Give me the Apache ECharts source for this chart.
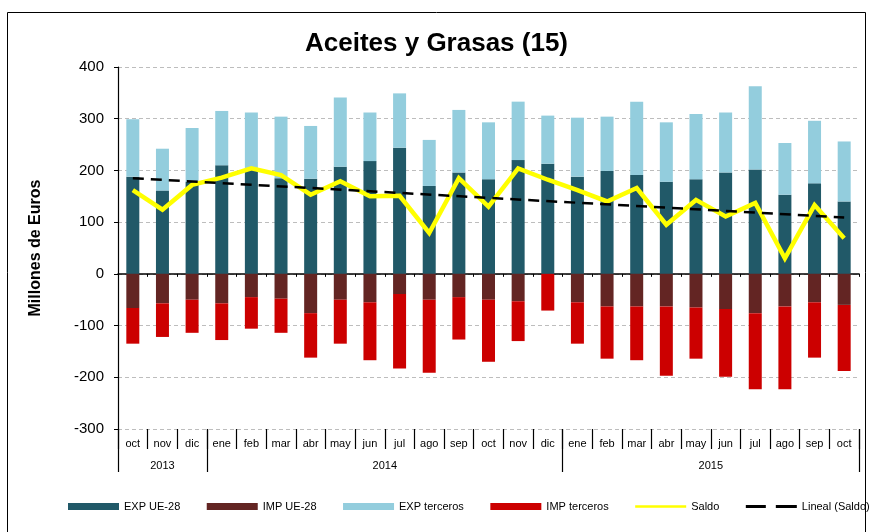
<!DOCTYPE html>
<html>
<head>
<meta charset="utf-8">
<script src="https://cdn.jsdelivr.net/npm/echarts@6/dist/echarts.min.js"></script>
<style>
  html, body { margin: 0; padding: 0; background: #fff; }
  #chart { width: 873px; height: 532px; }
</style>
</head>
<body>
<div id="chart"></div>
<script>
// Monthly categories, Oct 2013 – Oct 2015
const months = ['oct','nov','dic','ene','feb','mar','abr','may','jun','jul','ago','sep','oct','nov','dic',
                'ene','feb','mar','abr','may','jun','jul','ago','sep','oct'];
const years = ['2013', '2014', '2015'];
const monthsPerYear = [3, 12, 10];

// Millones de euros
const expUE = [188,161,178,210,201,185,184,207,218,244,170,196,183,220,213,188,199,191,178,183,196,202,153,175,140];
const expTerceros = [111,81,104,105,111,119,102,134,94,105,89,121,110,113,93,114,105,142,115,126,116,161,100,121,116];
const impUE = [-66,-57,-50,-57,-45,-48,-76,-50,-55,-39,-50,-45,-50,-53,0,-55,-63,-63,-63,-65,-68,-76,-63,-55,-60];
const impTerceros = [-69,-65,-64,-71,-61,-66,-86,-85,-112,-144,-141,-82,-120,-77,-71,-80,-101,-104,-134,-99,-131,-147,-160,-107,-128];
const saldo = [162,124,172,186,204,191,153,179,150,151,79,185,130,204,182,162,140,166,95,143,111,137,30,133,69];
// Linear trend of Saldo: value at first and last month
const trendEnds = [185, 109];

const yTicks = { min: -300, max: 400, step: 100 };

// Trend series: only the two end points, joined across the gap
const trend = months.map((m, i) => i === 0 ? trendEnds[0] : (i === months.length - 1 ? trendEnds[1] : null));

// Year boundaries and year label positions on a 0..N scale
const yearBounds = [0];
monthsPerYear.forEach(n => yearBounds.push(yearBounds[yearBounds.length - 1] + n));
const yearCenters = years.map((y, i) => (yearBounds[i] + yearBounds[i + 1]) / 2);

// Legend icons for the two line series (solid bar / two dashes), 51x7 box
const solidLineIcon = 'path://M0,0L0.01,0M0,2.2L51,2.2L51,4.8L0,4.8ZM51,7L50.99,7';
const dashedLineIcon = 'path://M0,0L0.01,0M0,2L20,2L20,5L0,5ZM30,2L51,2L51,5L30,5ZM51,7L50.99,7';

const chart = echarts.init(document.getElementById('chart'));
const font = 'Liberation Sans, Arial, sans-serif';

chart.setOption({
  animation: false,
  textStyle: { fontFamily: font },
  title: {
    text: 'Aceites y Grasas (15)',
    left: 'center',
    top: 26,
    textStyle: { fontSize: 26, fontWeight: 'bold', color: '#000', fontFamily: font }
  },
  graphic: [{
    type: 'rect',
    shape: { x: 7.5, y: 12.5, width: 858, height: 540 },
    style: { fill: 'none', stroke: '#000', lineWidth: 1 },
    silent: true
  }],
  legend: {
    left: 63,
    top: 496,
    width: 830,
    itemWidth: 51,
    itemHeight: 7,
    itemGap: 26.5,
    textStyle: { fontSize: 11, color: '#000', fontFamily: font },
    data: [
      { name: 'EXP UE-28', icon: 'rect' },
      { name: 'IMP UE-28', icon: 'rect' },
      { name: 'EXP terceros', icon: 'rect' },
      { name: 'IMP terceros', icon: 'rect' },
      { name: 'Saldo', icon: solidLineIcon },
      { name: 'Lineal (Saldo)', icon: dashedLineIcon }
    ]
  },
  grid: { left: 118, right: 14, top: 67, bottom: 103, containLabel: false },
  xAxis: [
    {
      // axis line at zero
      type: 'category',
      data: months,
      axisLine: { onZero: true, lineStyle: { color: '#000', width: 1.5 } },
      axisTick: { show: true, interval: 0, length: 3, lineStyle: { color: '#000' } },
      axisLabel: { show: false },
      splitLine: { show: false }
    },
    {
      // month labels below the plot
      type: 'category',
      data: months,
      position: 'bottom',
      axisLine: { show: false, onZero: false },
      axisTick: { show: true, interval: 0, length: 20, lineStyle: { color: '#000', width: 1.2 } },
      axisLabel: { interval: 0, margin: 9, fontSize: 11, color: '#000', fontFamily: font },
      splitLine: { show: false }
    },
    {
      // year labels and year separators
      type: 'value',
      min: 0,
      max: months.length,
      position: 'bottom',
      axisLine: { show: false, onZero: false },
      axisTick: { show: true, customValues: yearBounds, length: 43, lineStyle: { color: '#000', width: 1.2 } },
      axisLabel: {
        customValues: yearCenters,
        margin: 31,
        fontSize: 11,
        color: '#000',
        fontFamily: font,
        formatter: v => years[yearCenters.indexOf(v)] || ''
      },
      splitLine: { show: false }
    }
  ],
  yAxis: {
    type: 'value',
    min: yTicks.min,
    max: yTicks.max,
    interval: yTicks.step,
    name: 'Millones de Euros',
    nameLocation: 'middle',
    nameGap: 74,
    nameTextStyle: { fontSize: 16, fontWeight: 'bold', color: '#000', fontFamily: font },
    axisLine: { show: true, lineStyle: { color: '#000', width: 1.2 } },
    axisTick: { show: true, length: 4, lineStyle: { color: '#000' } },
    axisLabel: { fontSize: 15, color: '#000', margin: 14, fontFamily: font },
    splitLine: {
      show: true,
      lineStyle: { color: '#bdbdbd', type: [4, 3], width: 1 },
      showMinLine: true
    }
  },
  series: [
    {
      name: 'EXP UE-28', type: 'bar', stack: 'total', barWidth: 13,
      itemStyle: { color: '#215968' }, data: expUE, z: 2
    },
    {
      name: 'IMP UE-28', type: 'bar', stack: 'total', barWidth: 13,
      itemStyle: { color: '#632523' }, data: impUE, z: 2
    },
    {
      name: 'EXP terceros', type: 'bar', stack: 'total', barWidth: 13,
      itemStyle: { color: '#93CDDD' }, data: expTerceros, z: 2
    },
    {
      name: 'IMP terceros', type: 'bar', stack: 'total', barWidth: 13,
      itemStyle: { color: '#CC0000' }, data: impTerceros, z: 2
    },
    {
      name: 'Saldo', type: 'line', data: saldo, symbol: 'none',
      lineStyle: { color: '#FFFF00', width: 4.5, join: 'miter' },
      itemStyle: { color: '#FFFF00' }, z: 4
    },
    {
      name: 'Lineal (Saldo)', type: 'line', data: trend, connectNulls: true, symbol: 'none',
      lineStyle: { color: '#000', width: 2.5, type: [11, 7] },
      itemStyle: { color: '#000' }, z: 5
    }
  ]
});
</script>
</body>
</html>
